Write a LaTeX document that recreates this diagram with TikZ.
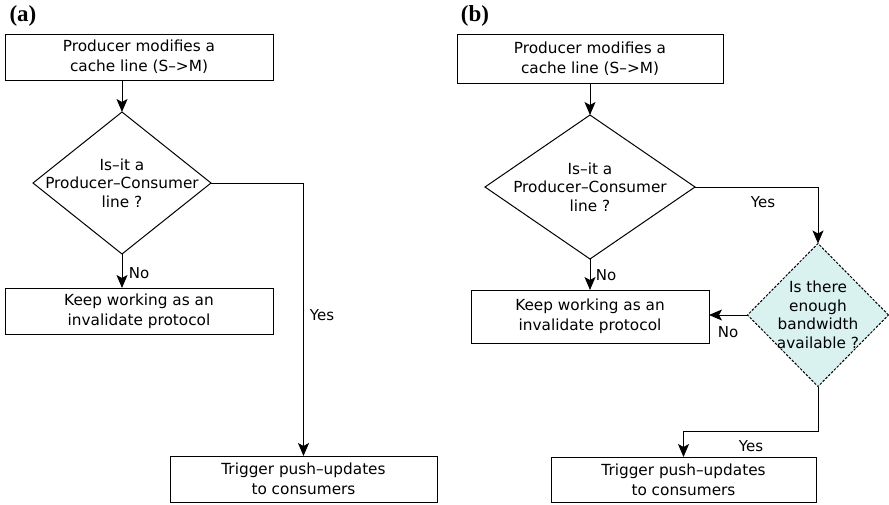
\documentclass[tikz,border=0pt]{standalone}
\usepackage{fontspec}
\setmainfont{DejaVu Sans}
\newfontfamily\labfont{Liberation Serif}
\usetikzlibrary{shapes.geometric,arrows.meta}
\definecolor{qfill}{HTML}{D9F2F0}
\tikzset{
  every node/.style={font=\fontsize{15.3}{20}\selectfont, inner sep=0pt, outer sep=0pt},
  box/.style={draw, line width=1pt, align=center, minimum width=#1},
  dia/.style={draw, line width=1pt, diamond},
  dtext/.style={align=center, font=\fontsize{15.3}{18.5}\selectfont},
  arr/.style={line width=1pt, -{Stealth[length=13pt,width=11pt,inset=3pt]}},
  lbl/.style={font=\fontsize{15}{18}\selectfont},
  panel/.style={font=\labfont\bfseries\fontsize{23}{26}\selectfont}
}
\begin{document}
\begin{tikzpicture}[x=1pt,y=-1pt]
\useasboundingbox (0,0) rectangle (889,504);
% panel a
\node[panel] (pa) at (23,16) {(a)};
\node[box=268pt, minimum height=46pt] (a1) at (139,57) {Producer modifies a\\cache line (S\textendash>M)};
\node[dia, minimum width=178pt, minimum height=142pt] (ad) at (122,183) {};
\node[dtext] (adt) at (ad.center) {Is\textendash it a\\Producer\textendash Consumer\\line ?};
\node[box=268pt, minimum height=46pt] (a2) at (139,311) {Keep working as an\\invalidate protocol};
\node[box=267pt, minimum height=46pt] (a3) at (303.5,479) {Trigger push\textendash updates\\to consumers};
\draw[arr] (ad.north |- a1.south) -- (ad.north);
\draw[arr] (ad.south) -- (ad.south |- a2.north);
\draw[arr] (ad.east) -| (a3.north);
\node[lbl] (ano) at (139,273) {No};
\node[lbl] (ayes) at (322,315) {Yes};
% panel b
\node[panel] (pb) at (475,16) {(b)};
\node[box=266pt, minimum height=49pt] (b1) at (590,58.5) {Producer modifies a\\cache line (S\textendash>M)};
\node[dia, minimum width=210pt, minimum height=144pt] (bd) at (590,187) {};
\node[dtext] (bdt) at (bd.center) {Is\textendash it a\\Producer\textendash Consumer\\line ?};
\node[box=238pt, minimum height=53pt] (b2) at (590,316.5) {Keep working as an\\invalidate protocol};
\node[dia, dashed, dash pattern=on 2.5pt off 1.5pt, fill=qfill, minimum width=141pt, minimum height=143pt] (bq) at (818,315) {};
\node[dtext] (bqt) at (bq.center) {Is there\\enough\\bandwidth\\available ?};
\node[box=265pt, minimum height=45pt] (b3) at (683.5,479.5) {Trigger push\textendash updates\\to consumers};
\draw[arr] (bd.north |- b1.south) -- (bd.north);
\draw[arr] (bd.south) -- (bd.south |- b2.north);
\draw[arr] (bd.east) -| (bq.north);
\draw[arr] (bq.west) -- (bq.west -| b2.east);
\coordinate (bk) at ([yshift=-44.5pt]bq.south);
\draw[arr] (bq.south) -- (bk) -| (b3.north);
\node[lbl] (bno1) at (606,275) {No};
\node[lbl] (byes1) at (763,202) {Yes};
\node[lbl] (bno2) at (728,332) {No};
\node[lbl] (byes2) at (751,446) {Yes};
\end{tikzpicture}
\end{document}
